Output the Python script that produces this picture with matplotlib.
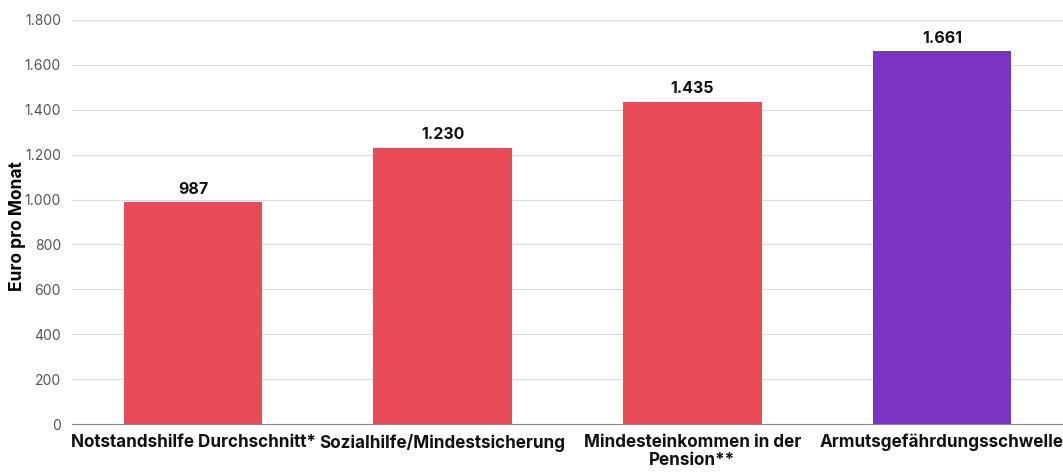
import matplotlib
matplotlib.use("Agg")
import matplotlib.pyplot as plt
from matplotlib.ticker import FuncFormatter

# Daten
kategorien = ["Notstandshilfe Durchschnitt*", "Sozialhilfe/Mindestsicherung",
              "Mindesteinkommen in der\nPension**", "Armutsgefährdungsschwelle"]
werte = [987, 1230, 1435, 1661]
farben = ["#E84B56", "#E84B56", "#E84B56", "#7B33C1"]
yticks = [0, 200, 400, 600, 800, 1000, 1200, 1400, 1600, 1800]

plt.rcParams['font.family'] = ['Inter', 'DejaVu Sans']

fig = plt.figure(figsize=(10.63, 4.72), dpi=100)
ax = fig.add_axes([72 / 1063, 48 / 472, 1 - 72 / 1063, 404 / 472])

x = list(range(len(werte)))
ax.bar(x, werte, width=0.555, color=farben, zorder=3)

for xi, w in zip(x, werte):
    ax.text(xi, w + 25, f"{w:,}".replace(",", "."), ha="center", va="bottom",
            fontsize=11.5, fontweight="bold", color="#111111")

def tausender(v, pos):
    return f"{int(v):,}".replace(",", ".")

ax.set_ylim(0, 1800)
ax.set_xlim(-0.485, 3.485)
ax.set_yticks(yticks)
ax.yaxis.set_major_formatter(FuncFormatter(tausender))
ax.set_xticks(x)
ax.set_xticklabels(kategorien, fontsize=12.3, fontweight="bold", color="#111111",
                   linespacing=1.1)
ax.tick_params(axis="y", length=0, labelsize=10, labelcolor="#555555", pad=8)
ax.tick_params(axis="x", length=0, pad=7)
ax.grid(axis="y", color="#d9d9d9", linewidth=0.8, zorder=0)
for s in ["top", "right", "left"]:
    ax.spines[s].set_visible(False)
ax.spines["bottom"].set_color("#888888")
ax.spines["bottom"].set_zorder(4)
ax.set_ylabel("Euro pro Monat", fontsize=12.5, fontweight="bold", va="center")
ax.yaxis.set_label_coords(-0.055, 0.49)

fig.savefig("out.png", dpi=100)
